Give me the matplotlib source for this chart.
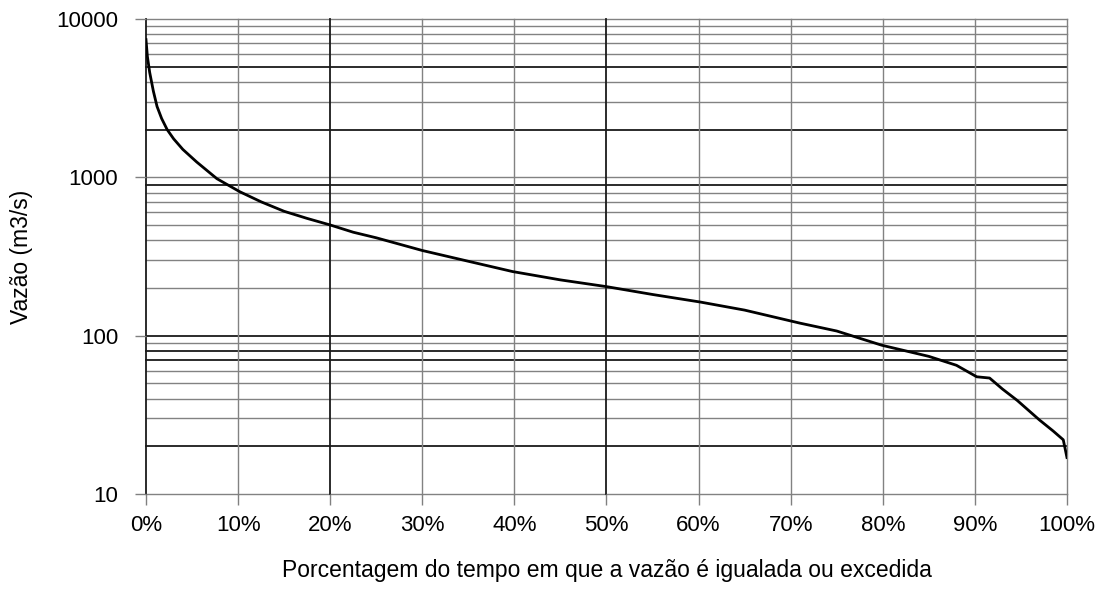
import matplotlib
matplotlib.use("Agg")
import matplotlib.pyplot as plt
from matplotlib.ticker import FixedLocator, PercentFormatter, NullLocator

plt.rcParams['font.family'] = ['Liberation Sans', 'DejaVu Sans']

# flow duration curve
pct = [0, 0.15, 0.4, 0.8, 1.2, 1.7, 2.3, 3.0, 4.0, 5.5, 7.7, 10.2, 12.5, 15, 17.5,
       20, 22.5, 25, 27.6, 30, 35, 39.8, 45, 50, 55, 60.2, 65, 71, 75, 79.9, 85,
       88, 90.2, 91.6, 93, 94.6, 97, 98.5, 99.6, 100]
vazao = [7400, 5800, 4600, 3500, 2800, 2350, 2000, 1750, 1500, 1250, 980, 810,
         700, 610, 550, 500, 450, 415, 377, 345, 295, 254, 225, 204, 182, 163,
         145, 120, 107, 87, 74, 65, 55, 54, 46, 39, 29.4, 25, 22, 17]

x_ticks = list(range(0, 101, 10))
y_ticks = [10, 100, 1000, 10000]
# gridlines that look heavier in the scan
dark_y = [20, 70, 80, 100, 900, 2000, 5000]
dark_x = [0, 20, 50]

fig = plt.figure(figsize=(11.06, 5.92), dpi=100)
ax = fig.add_axes([0.132, 0.1655, 0.8327, 0.8025])

y_grid = [d * m for d in [10, 100, 1000] for m in range(1, 10)] + [10000]
for v in y_grid:
    dark = v in dark_y
    ax.axhline(v, color='#1a1a1a' if dark else '#828282', lw=1.3 if dark else 1.0,
               zorder=1, clip_on=False)
for v in x_ticks:
    dark = v in dark_x
    ax.axvline(v, color='#1a1a1a' if dark else '#828282', lw=1.3 if dark else 1.0,
               zorder=1, clip_on=False)

ax.plot(pct, vazao, color='black', lw=2.0, zorder=3)

ax.set_yscale('log')
ax.set_xlim(0, 100)
ax.set_ylim(10, 10000)
ax.xaxis.set_major_locator(FixedLocator(x_ticks))
ax.xaxis.set_major_formatter(PercentFormatter(decimals=0))
ax.yaxis.set_major_locator(FixedLocator(y_ticks))
ax.yaxis.set_major_formatter(matplotlib.ticker.FuncFormatter(lambda v, p: f"{v:.0f}"))
ax.yaxis.set_minor_locator(NullLocator())

ax.tick_params(axis='both', which='major', length=8, width=1, color='#808080',
               labelsize=16, direction='out')
ax.tick_params(axis='y', which='major', pad=12)
ax.tick_params(axis='x', which='major', pad=7)

for side in ['top', 'right', 'left', 'bottom']:
    ax.spines[side].set_visible(False)

ax.set_xlabel('Porcentagem do tempo em que a vazão é igualada ou excedida',
              fontsize=16.5, labelpad=17)
ax.set_ylabel('Vazão (m3/s)', fontsize=16.5, labelpad=17)

fig.savefig('out.png', dpi=100)
